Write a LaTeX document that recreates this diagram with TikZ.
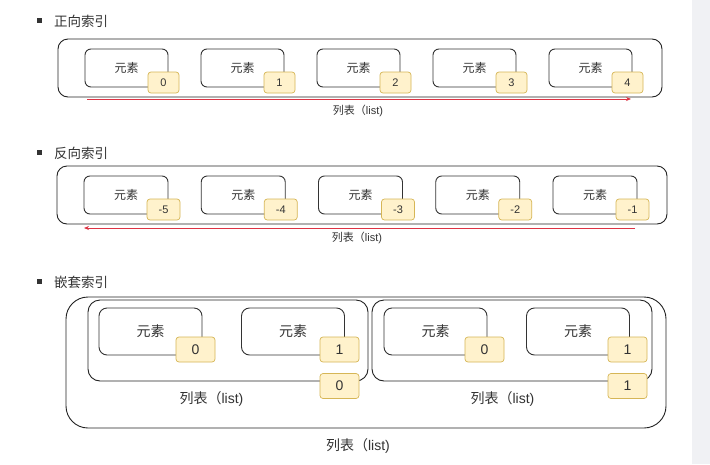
\documentclass[tikz,border=0pt]{standalone}
\usepackage{fontspec}
\setmainfont{Liberation Sans}
\newfontfamily\cjk{Noto Sans CJK SC}
\usetikzlibrary{arrows.meta}
\definecolor{boxline}{HTML}{333333}
\definecolor{outerline}{HTML}{222222}
\definecolor{badgefill}{HTML}{FFF2CC}
\definecolor{badgeline}{HTML}{D6B656}
\definecolor{arrowred}{HTML}{DD3344}
\definecolor{sidegray}{HTML}{F0F1F4}
\definecolor{textgray}{HTML}{333333}
\tikzset{
  listbox/.style={draw=outerline, line width=0.9pt, rectangle, inner sep=0pt},
  elembox/.style={draw=boxline, line width=0.9pt, rectangle, rounded corners=6pt, inner sep=0pt, minimum width=83pt, minimum height=38pt, text=textgray, font=\cjk\fontsize{12}{12}\selectfont},
  badge/.style={draw=badgeline, fill=badgefill, line width=0.7pt, rectangle, rounded corners=3pt, inner sep=0pt, minimum width=31pt, minimum height=21pt, text=textgray, font=\fontsize{11}{11}\selectfont},
  bigelem/.style={elembox, rounded corners=8pt, minimum width=103pt, minimum height=47pt, font=\cjk\fontsize{14}{14}\selectfont},
  bigbadge/.style={badge, minimum width=39pt, minimum height=25pt, font=\fontsize{14}{14}\selectfont},
  heading/.style={anchor=west, inner sep=0pt, text=textgray, font=\cjk\fontsize{13.5}{13.5}\selectfont},
  bulletsq/.style={fill=textgray, rectangle, inner sep=0pt, minimum width=5pt, minimum height=5pt},
  smalllabel/.style={inner sep=0pt, text=textgray, font=\fontsize{11}{11}\selectfont},
  biglabel/.style={inner sep=0pt, text=textgray, font=\fontsize{14}{14}\selectfont},
  redline/.style={draw=arrowred, line width=0.8pt},
}
\newcommand{\lbl}{{\cjk 列表（}list)}
\begin{document}
\begin{tikzpicture}[x=1pt,y=-1pt]
\useasboundingbox (0,0) rectangle (710,464);
\fill[white] (0,0) rectangle (710,464);
\fill[sidegray] (692,0) rectangle (710,464);

% ---------- Section 1: forward index ----------
\node[bulletsq] (b1) at (39.5,20.5) {};
\node[heading] (h1) at (54,21) {正向索引};
\node[listbox, rounded corners=10pt, minimum width=604pt, minimum height=58pt] (L1) at (360,68) {};
\foreach \i in {0,1,2,3,4}{
  \node[elembox] (e1\i) at ({126.5+116*\i},68) {元素};
}
\foreach \i/\n in {0/0,1/1,2/2,3/3,4/4}{
  \node[badge] (g1\i) at ({163.5+116*\i},82.5) {\n};
}
\coordinate (r1s) at (87,99);
\coordinate (r1e) at (631,99);
\draw[redline,-{Stealth[length=5pt,width=4pt]}] (r1s) -- (r1e);
\node[smalllabel] (t1) at (358,111) {\lbl};

% ---------- Section 2: reverse index ----------
\node[bulletsq] (b2) at (39.5,152.5) {};
\node[heading] (h2) at (54,153) {反向索引};
\node[listbox, rounded corners=10pt, minimum width=610pt, minimum height=58pt] (L2) at (362,195) {};
\foreach \i in {0,1,2,3,4}{
  \node[elembox, minimum width=84pt] (e2\i) at ({126+117.25*\i},195) {元素};
}
\foreach \i/\n in {0/-5,1/-4,2/-3,3/-2,4/-1}{
  \node[badge, minimum width=33pt] (g2\i) at ({163.5+117.25*\i},209.5) {\n};
}
\coordinate (r2s) at (635,228);
\coordinate (r2e) at (84,228);
\draw[redline,-{Stealth[length=5pt,width=4pt]}] (r2s) -- (r2e);
\node[smalllabel] (t2) at (357,238) {\lbl};

% ---------- Section 3: nested index ----------
\node[bulletsq] (b3) at (39.5,281.5) {};
\node[heading] (h3) at (54,282) {嵌套索引};
\node[listbox, rounded corners=22pt, minimum width=600pt, minimum height=131pt] (L3) at (366,362.5) {};
\node[listbox, rounded corners=12pt, minimum width=280pt, minimum height=81pt] (L31) at (228,340.5) {};
\node[listbox, rounded corners=12pt, minimum width=280pt, minimum height=81pt] (L32) at (512,340.5) {};
\node[bigelem] (eA) at (150.5,331.5) {元素};
\node[bigelem] (eB) at (293,331.5) {元素};
\node[bigelem] (eC) at (435.5,331.5) {元素};
\node[bigelem] (eD) at (578,331.5) {元素};
\node[bigbadge] (gA) at (195.5,349.5) {0};
\node[bigbadge] (gB) at (339.5,349.5) {1};
\node[bigbadge] (gC) at (484.5,349.5) {0};
\node[bigbadge] (gD) at (627.5,349.5) {1};
\node[bigbadge] (gL1) at (339.5,386) {0};
\node[bigbadge] (gL2) at (627.5,386) {1};
\node[biglabel] (t31) at (211.5,399) {\lbl};
\node[biglabel] (t32) at (502.5,399) {\lbl};
\node[biglabel] (t3) at (358,446) {\lbl};
\end{tikzpicture}
\end{document}
